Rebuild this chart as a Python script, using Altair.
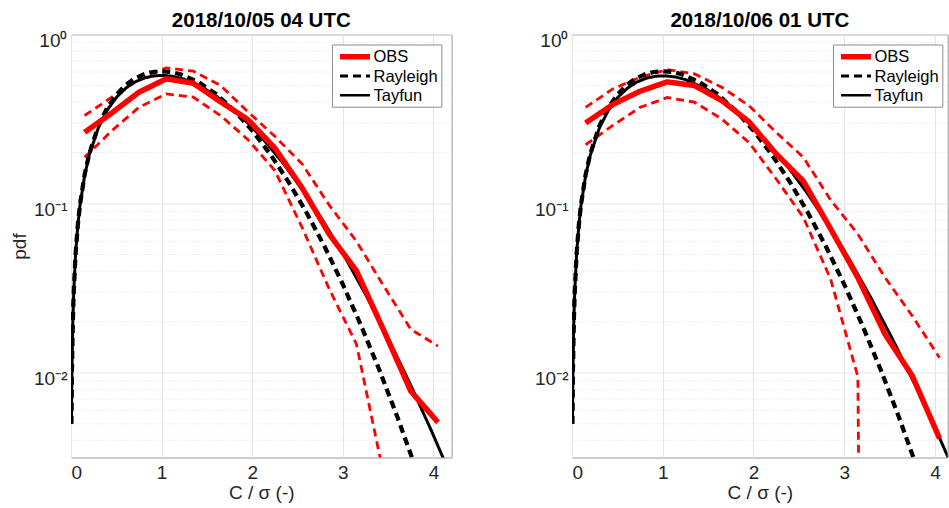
import altair as alt
import pandas as pd

# ---------------- data ----------------
bins = [0.15, 0.45, 0.75, 1.05, 1.35, 1.65, 1.95, 2.25, 2.55, 2.85, 3.15, 3.45, 3.75, 4.05]

# panel A : 2018/10/05 04 UTC
obs_a = [0.264, 0.344, 0.456, 0.547, 0.515, 0.400, 0.315, 0.213, 0.124, 0.066, 0.0401, 0.0179, 0.0078, 0.0051]
up_a = [0.332, 0.426, 0.550, 0.635, 0.607, 0.500, 0.350, 0.250, 0.172, 0.098, 0.060, 0.0327, 0.0181, 0.0144]
lo_a = [0.188, 0.270, 0.371, 0.446, 0.426, 0.332, 0.240, 0.157, 0.0724, 0.0313, 0.0148, 0.0025]

# panel B : 2018/10/06 01 UTC
obs_b = [0.300, 0.386, 0.462, 0.525, 0.499, 0.407, 0.305, 0.197, 0.136, 0.071, 0.0366, 0.0169, 0.0096, 0.0041]
up_b = [0.371, 0.477, 0.559, 0.621, 0.585, 0.488, 0.380, 0.264, 0.188, 0.105, 0.0662, 0.0366, 0.0217, 0.0123]
lo_b = [0.223, 0.290, 0.371, 0.424, 0.398, 0.317, 0.230, 0.140, 0.0830, 0.0358, 0.0095, 1e-20]

# Rayleigh curve (same in both panels)
ray_x = [0.005, 0.01, 0.02, 0.03, 0.05, 0.075, 0.1, 0.15, 0.2, 0.3, 0.4, 0.5, 0.6, 0.7, 0.8, 0.9, 1.0,
         1.1, 1.2, 1.4, 1.6, 1.8, 2.0, 2.2, 2.4, 2.6, 2.8, 3.0, 3.2, 3.4, 3.6, 3.8, 4.0]
ray_y = [0.005, 0.01, 0.02, 0.03, 0.0499, 0.0748, 0.0995, 0.1483, 0.1960, 0.2868, 0.3693, 0.4413, 0.5012,
         0.5479, 0.5809, 0.6003, 0.6065, 0.6007, 0.5841, 0.5254, 0.4449, 0.3562, 0.2707, 0.1956, 0.1347,
         0.0885, 0.0556, 0.0333, 0.0191, 0.0105, 0.00552, 0.00278, 0.00134]

# Tayfun curves
tay_a_x = [0.005, 0.01, 0.02, 0.03, 0.05, 0.0752, 0.1003, 0.1507, 0.2012, 0.3026, 0.4046, 0.5073, 0.6104,
           0.7142, 0.8186, 0.9235, 1.029, 1.1351, 1.2418, 1.4568, 1.6742, 1.894, 2.116, 2.3404, 2.567,
           2.796, 3.0274, 3.261, 3.497, 3.7352, 3.9758, 4.2188]
tay_a_y = [0.005, 0.01, 0.02, 0.03, 0.0498, 0.0745, 0.0989, 0.1470, 0.1938, 0.2819, 0.3609, 0.4288, 0.4843,
           0.5265, 0.5552, 0.5705, 0.5733, 0.5647, 0.5461, 0.4860, 0.4071, 0.3225, 0.2425, 0.1735, 0.1183,
           0.0769, 0.0478, 0.0284, 0.01613, 0.00877, 0.00457, 0.00228]
tay_b_x = [0.005, 0.01, 0.02, 0.03, 0.05, 0.0752, 0.1003, 0.1507, 0.2013, 0.3029, 0.4052, 0.5081, 0.6117,
           0.7159, 0.8208, 0.9263, 1.0325, 1.1393, 1.2468, 1.4637, 1.6832, 1.9053, 2.13, 2.3573, 2.5872,
           2.8197, 3.0548, 3.2925, 3.5328, 3.7757, 4.0212, 4.2693]
tay_b_y = [0.005, 0.01, 0.02, 0.03, 0.0498, 0.0744, 0.0989, 0.1469, 0.1935, 0.2813, 0.3599, 0.4274, 0.4824,
           0.5241, 0.5522, 0.5671, 0.5695, 0.5606, 0.5418, 0.4816, 0.4030, 0.3189, 0.2395, 0.1712, 0.1165,
           0.0757, 0.0470, 0.0279, 0.01583, 0.00860, 0.00448, 0.00223]

titles = ["2018/10/05 04 UTC", "2018/10/06 01 UTC"]
x_ticks = [0, 1, 2, 3, 4]
y_major = [0.01, 0.1, 1]
y_minor = [0.004, 0.005, 0.006, 0.007, 0.008, 0.009,
           0.02, 0.03, 0.04, 0.05, 0.06, 0.07, 0.08, 0.09,
           0.2, 0.3, 0.4, 0.5, 0.6, 0.7, 0.8, 0.9]
series_names = ["OBS", "Rayleigh", "Tayfun"]
series_colors = ["#ff0000", "#000000", "#000000"]
series_dash = [[1, 0], [8, 5], [1, 0]]
series_width = [5.5, 3.0, 2.5]

FONT = "Liberation Sans"
Y_MIN = 10 ** -2.5


def legend_layers():
    """Boxed legend in the upper-right corner of a panel (pixel placement)."""
    box = alt.Chart(pd.DataFrame({"k": [0]})).mark_rect(
        fill="white", stroke="#8c8c8c", strokeWidth=1
    ).encode(x=alt.value(261.5), x2=alt.value(370.8), y=alt.value(10.5), y2=alt.value(72.7))
    layers = [box]
    row_y = [22.3, 41.5, 60.7]
    for name, col, dash, sw, yy in zip(series_names, series_colors, series_dash, series_width, row_y):
        one = pd.DataFrame({"label": [name]})
        layers.append(
            alt.Chart(one).mark_rule(color=col, strokeDash=dash, strokeWidth=sw).encode(
                x=alt.value(269), x2=alt.value(299), y=alt.value(yy))
        )
        layers.append(
            alt.Chart(one).mark_text(align="left", baseline="middle", font=FONT, fontSize=16.5,
                                     color="black").encode(
                x=alt.value(302.5), y=alt.value(yy + 0.5), text="label:N")
        )
    return layers


def panel(title, obs, up, lo, tx, ty, xmax, width, show_ytitle):
    main = pd.concat([
        pd.DataFrame({"x": ray_x, "y": ray_y, "series": "Rayleigh"}),
        pd.DataFrame({"x": tx, "y": ty, "series": "Tayfun"}),
        pd.DataFrame({"x": bins[:len(obs)], "y": obs, "series": "OBS"}),
    ], ignore_index=True)
    band = pd.concat([
        pd.DataFrame({"x": bins[:len(up)], "y": up, "band": "upper"}),
        pd.DataFrame({"x": bins[:len(lo)], "y": lo, "band": "lower"}),
    ], ignore_index=True)
    minor = pd.DataFrame({"v": y_minor})

    xs = alt.Scale(domain=[0, xmax], nice=False, zero=False)
    ys = alt.Scale(type="log", domain=[Y_MIN, 1], nice=False)
    xaxis = alt.Axis(values=x_ticks, title="C / σ (-)", grid=True, labelPadding=6,
                     titlePadding=1, format="d")
    yaxis_kw = dict(values=y_major, grid=True, labelPadding=4, labelOffset=6,
                    labelExpr="datum.value >= 0.5 ? '10⁰' : (datum.value >= 0.05 ? '10⁻¹' : '10⁻²')")
    if show_ytitle:
        yaxis = alt.Axis(title="pdf", titleX=-52, titleAngle=270, titleBaseline="middle",
                         titleAlign="center", **yaxis_kw)
    else:
        yaxis = alt.Axis(title=None, **yaxis_kw)

    grid_minor = alt.Chart(minor).mark_rule(color="#dcdcdc", strokeDash=[1, 2], strokeWidth=1).encode(
        y=alt.Y("v:Q", scale=ys, axis=yaxis)
    )
    band_lines = alt.Chart(band).mark_line(color="#ff0000", strokeDash=[8, 5], strokeWidth=2.8,
                                           clip=True).encode(
        x=alt.X("x:Q", scale=xs, axis=xaxis),
        y=alt.Y("y:Q", scale=ys, axis=yaxis),
        detail="band:N",
    )
    main_lines = alt.Chart(main).mark_line(clip=True).encode(
        x=alt.X("x:Q", scale=xs, axis=xaxis),
        y=alt.Y("y:Q", scale=ys, axis=yaxis),
        color=alt.Color("series:N", scale=alt.Scale(domain=series_names, range=series_colors), legend=None),
        strokeDash=alt.StrokeDash("series:N", scale=alt.Scale(domain=series_names, range=series_dash),
                                  legend=None),
        strokeWidth=alt.StrokeWidth("series:N", scale=alt.Scale(domain=series_names, range=series_width),
                                    legend=None),
    )
    return alt.layer(grid_minor, band_lines, main_lines, *legend_layers()).properties(
        width=width, height=423,
        title=alt.Title(title, anchor="middle"),
    )


left = panel(titles[0], obs_a, up_a, lo_a, tay_a_x, tay_a_y, 4.2, 380.6, True)
right = panel(titles[1], obs_b, up_b, lo_b, tay_b_x, tay_b_y, 4.14, 375.7, False)

chart = alt.hconcat(left, right, spacing=120, bounds="flush").resolve_scale(
    x="independent", y="independent", color="independent",
    strokeDash="independent", strokeWidth="independent",
).properties(
    padding={"left": 9, "top": 9.5, "right": 0, "bottom": 0},
    background="white",
).configure_view(
    stroke="#999999", strokeWidth=1,
).configure_axis(
    domain=False, ticks=False, gridColor="#e4e4e4", gridWidth=1,
    labelFont=FONT, labelFontSize=19, labelColor="#262626",
    titleFont=FONT, titleFontSize=19, titleFontWeight="normal", titleColor="#262626",
).configure_title(
    font=FONT, fontSize=20.5, fontWeight="bold", color="black", offset=0.5,
)

chart.save("out.html", embed_options={"renderer": "svg", "actions": False})
